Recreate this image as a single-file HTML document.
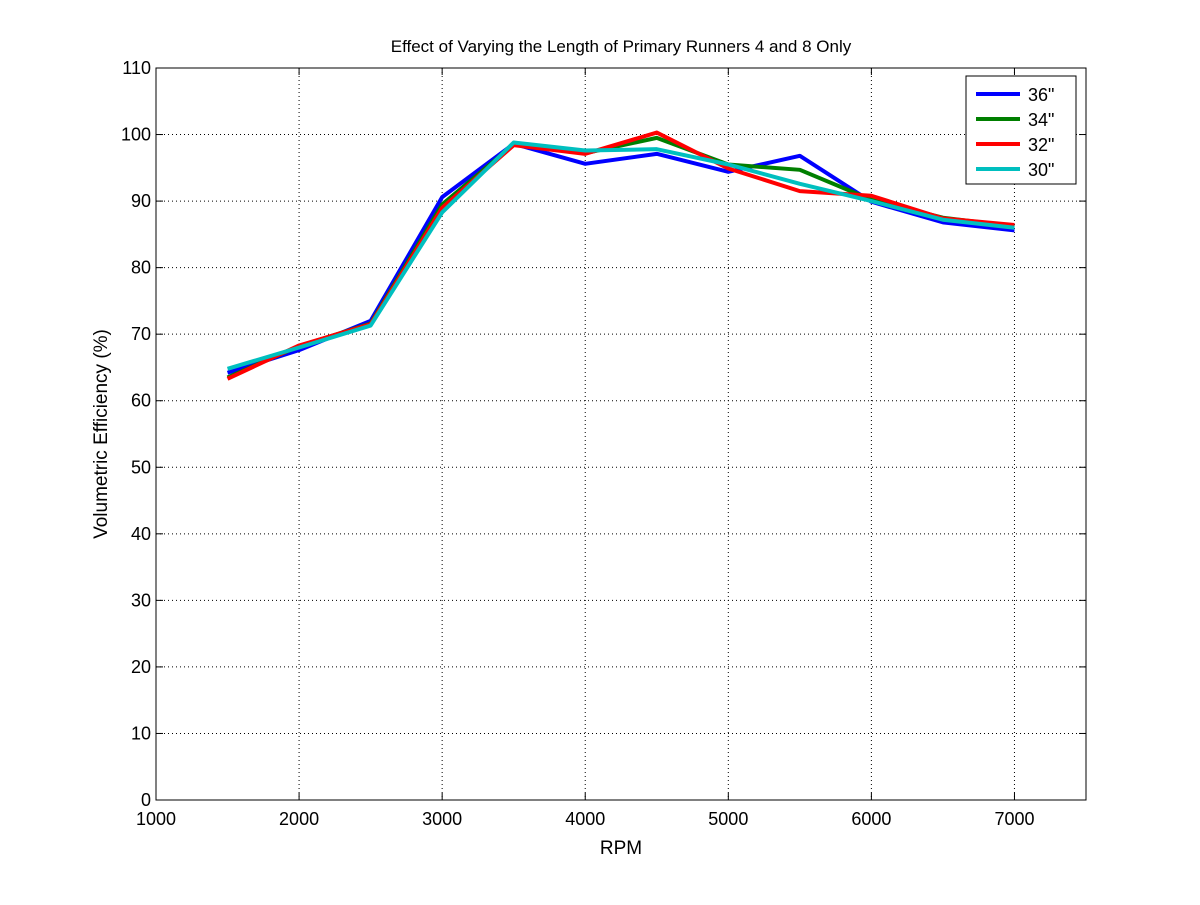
<!DOCTYPE html>
<html><head><meta charset="utf-8"><style>
body{margin:0;background:#fff;font-family:"Liberation Sans",sans-serif}
</style></head><body>
<svg width="1200" height="900" xmlns="http://www.w3.org/2000/svg" font-family="Liberation Sans, sans-serif">
<rect width="1200" height="900" fill="#fff"/>
<g id="grid"></g>
<rect x="156" y="68" width="930" height="732" fill="none" stroke="#000" stroke-width="1"/>
<g id="ticks"></g>
<g id="series"></g>
<text x="621" y="52" text-anchor="middle" font-size="17">Effect of Varying the Length of Primary Runners 4 and 8 Only</text>
<text x="621" y="854" text-anchor="middle" font-size="19">RPM</text>
<text transform="translate(107,434) rotate(-90)" text-anchor="middle" font-size="19">Volumetric Efficiency (%)</text>
<g id="legend"></g>
</svg>
<script>
const rpm=[1500,2000,2500,3000,3500,4000,4500,5000,5500,6000,6500,7000];
const s36=[64.2,67.6,72,90.6,98.6,95.6,97.1,94.4,96.8,89.9,86.8,85.6];
const s34=[63.5,68.2,71.6,89.5,98.5,97.2,99.5,95.5,94.7,90.2,87.5,86.2];
const s32=[63.3,68.3,71.5,89,98.4,97.1,100.3,94.9,91.5,90.8,87.4,86.4];
const s30=[64.8,68,71.3,88.3,98.8,97.6,97.8,95.5,92.6,90,87.2,86.0];
const seriesNames=['36"','34"','32"','30"'];
const xTicks=[1000,2000,3000,4000,5000,6000,7000];
const yTicks=[0,10,20,30,40,50,60,70,80,90,100,110];
const NS='http://www.w3.org/2000/svg';
const L=156,R=1086,T=68,B=800,xmin=1000,xmax=7500,ymin=0,ymax=110;
const X=v=>L+(v-xmin)/(xmax-xmin)*(R-L);
const Y=v=>B-(v-ymin)/(ymax-ymin)*(B-T);
function mk(tag,attrs,parent){const e=document.createElementNS(NS,tag);for(const k in attrs)e.setAttribute(k,attrs[k]);parent.appendChild(e);return e;}
const grid=document.getElementById('grid'),ticks=document.getElementById('ticks');
xTicks.forEach(v=>{const x=X(v);
 if(v>xmin){const g=mk('line',{x1:x,x2:x,y1:T,y2:B,stroke:'#000','stroke-dasharray':'1,3','stroke-width':1},grid);
 
 }
 mk('line',{x1:x,x2:x,y1:B,y2:B-7,stroke:'#000'},ticks);
 mk('line',{x1:x,x2:x,y1:T,y2:T+7,stroke:'#000'},ticks);
 const t=mk('text',{x:x,y:B+25,'text-anchor':'middle','font-size':18},ticks);t.textContent=v;
 
 
});
yTicks.forEach(v=>{const y=Y(v);
 if(v>ymin&&v<ymax){const g=mk('line',{x1:L,x2:R,y1:y,y2:y,stroke:'#000','stroke-dasharray':'1,3','stroke-width':1},grid);
 
 }
 mk('line',{x1:L,x2:L+7,y1:y,y2:y,stroke:'#000'},ticks);
 mk('line',{x1:R,x2:R-7,y1:y,y2:y,stroke:'#000'},ticks);
 const t=mk('text',{x:L-5,y:y+6,'text-anchor':'end','font-size':18},ticks);t.textContent=v;
 
 
});
const colors=['#0000ff','#007f00','#ff0000','#00bfbf'];
const data=[s36,s34,s32,s30];
const sg=document.getElementById('series');
data.forEach((d,i)=>{
 const p=mk('polyline',{points:d.map((v,j)=>X(rpm[j])+','+Y(v)).join(' '),fill:'none',stroke:colors[i],'stroke-width':4,'stroke-linejoin':'round'},sg);
 
 
});
const lg=document.getElementById('legend');
const box=mk('rect',{x:966,y:76,width:110,height:108,fill:'#fff',stroke:'#000'},lg);


seriesNames.forEach((n,i)=>{const y=94+i*25;
 mk('line',{x1:976,x2:1020,y1:y,y2:y,stroke:colors[i],'stroke-width':4},lg);
 const t=mk('text',{x:1028,y:y+7,'font-size':18},lg);t.textContent=n;
 
 
});
</script>
</body></html>
